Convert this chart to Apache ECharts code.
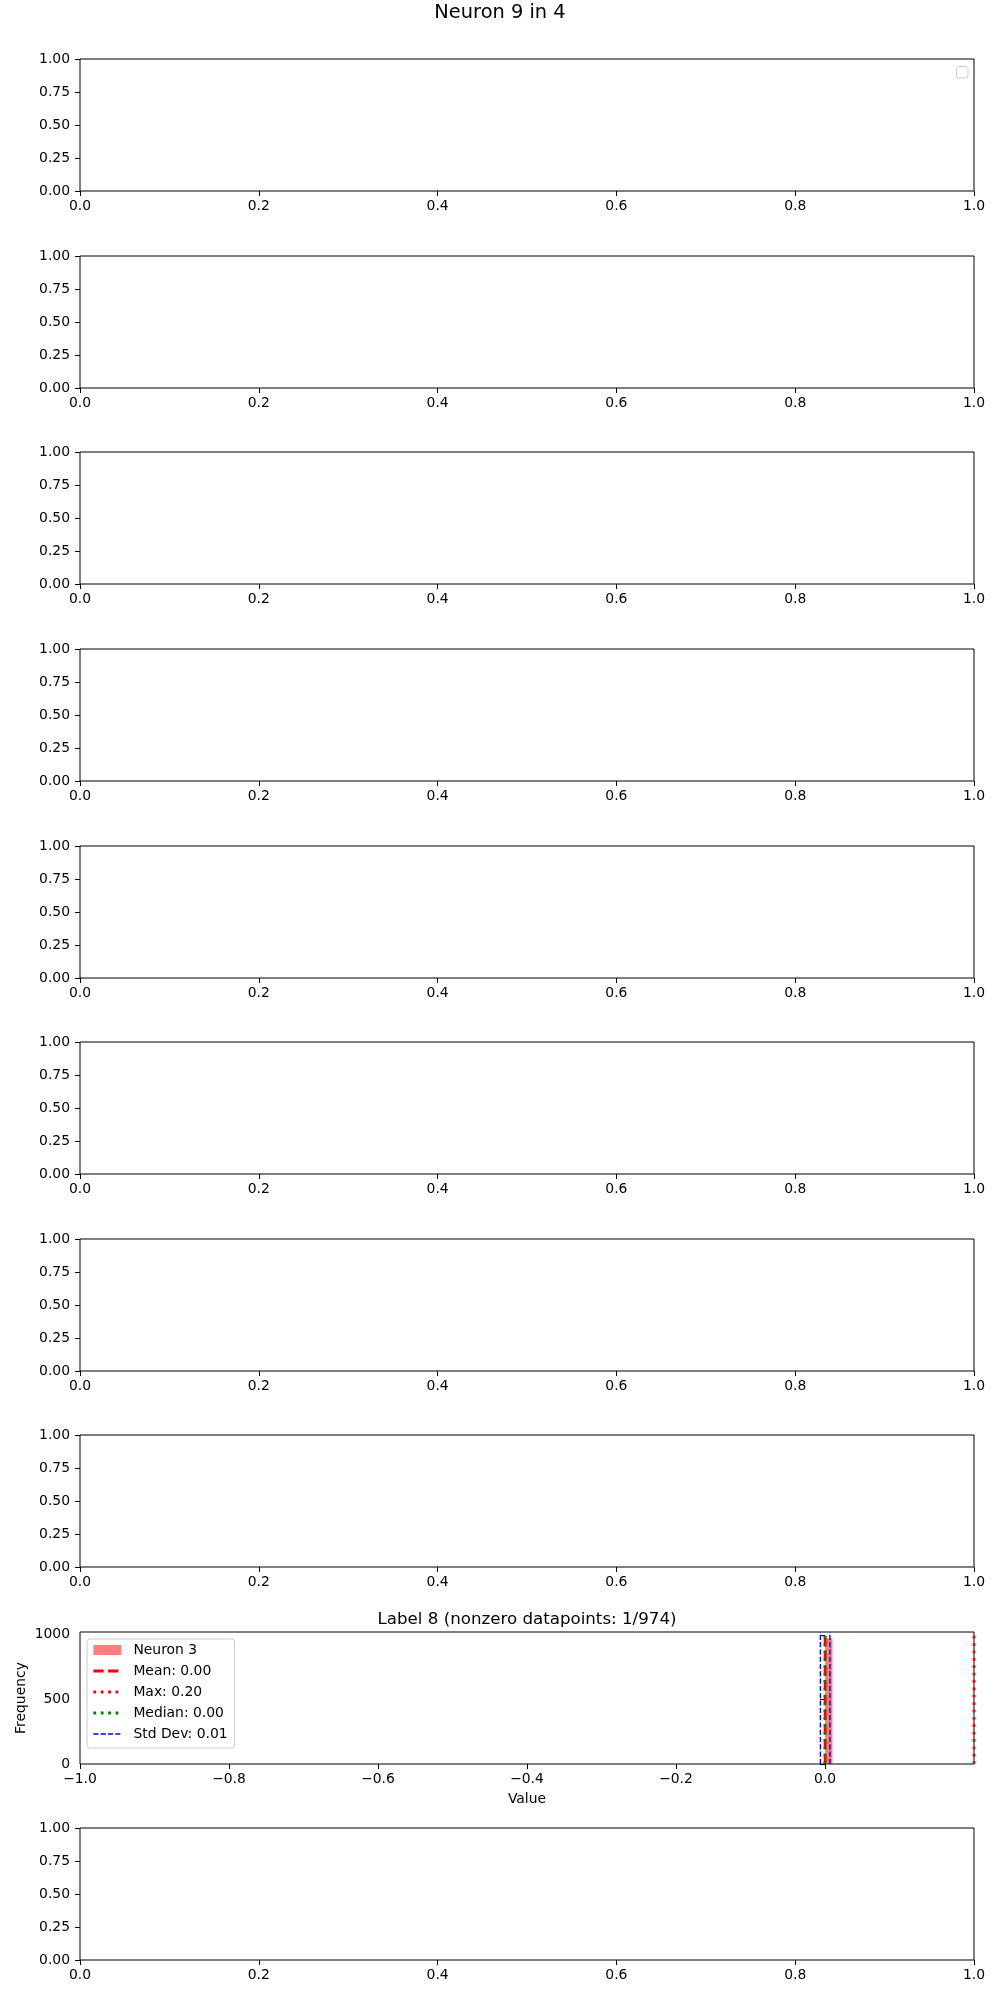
<!DOCTYPE html>
<html>
<head>
<meta charset="utf-8">
<script src="https://cdn.jsdelivr.net/npm/echarts@6/dist/echarts.min.js"></script>
<style>
html,body{margin:0;padding:0;background:#ffffff;}
#chart{width:1000px;height:2000px;}
</style>
</head>
<body>
<div id="chart"></div>
<script>
// ---------------- data ----------------
const figureTitle = 'Neuron 9 in 4';
const histPanelTitle = 'Label 8 (nonzero datapoints: 1/974)';
const histSeriesName = 'Neuron 3';
const histEdges = [0.00, 0.01, 0.02, 0.03, 0.04, 0.05, 0.06, 0.07, 0.08, 0.09, 0.10,
                   0.11, 0.12, 0.13, 0.14, 0.15, 0.16, 0.17, 0.18, 0.19, 0.20];
const histCounts = [973, 0, 0, 0, 0, 0, 0, 0, 0, 0,
                    0, 0, 0, 0, 0, 0, 0, 0, 0, 1];
const meanVal = 0.0002;
const maxVal = 0.20;
const medianVal = 0.0;
const stdVal = 0.0064;
const histXRange = [-1.0, 0.2];
const histYMax = 1021.65;
const histXTicks = [-1.0, -0.8, -0.6, -0.4, -0.2, 0.0];
const histYTicks = [0, 500, 1000];
const emptyXTicks = [0.0, 0.2, 0.4, 0.6, 0.8, 1.0];
const emptyYTicks = [0.0, 0.25, 0.5, 0.75, 1.0];
const histXLabel = 'Value';
const histYLabel = 'Frequency';
const panelCount = 10;
const histPanelIndex = 8;

// ---------------- layout ----------------
const FONT = 'DejaVu Sans';
const gridLeft = 80, gridRight = 26, gridHeight = 132;
const firstTop = 59.3, panelStep = 196.56;
const tickFont = 13.9;

function fmtX(v) { return (v < 0 ? '\u2212' : '') + Math.abs(v).toFixed(1); }
function fmtY2(v) { return v.toFixed(2); }
function fmtInt(v) { return String(Math.round(v)); }

const grids = [], xAxes = [], yAxes = [], series = [];
for (let i = 0; i < panelCount; i++) {
  const top = Math.round(firstTop + i * panelStep);
  grids.push({left: gridLeft, right: gridRight, top: top, height: gridHeight,
    show: true, borderColor: '#000', borderWidth: 1, backgroundColor: '#fff'});
  const isHist = i === histPanelIndex;
  const xt = isHist ? histXTicks : emptyXTicks;
  const yt = isHist ? histYTicks : emptyYTicks;
  xAxes.push({
    type: 'value', gridIndex: i,
    min: isHist ? histXRange[0] : 0, max: isHist ? histXRange[1] : 1,
    axisLine: {show: false},
    splitLine: {show: false},
    axisTick: {show: true, length: 5, customValues: xt, lineStyle: {color: '#000', width: 1}},
    axisLabel: {customValues: xt, formatter: fmtX, color: '#000', fontSize: tickFont, fontFamily: FONT, margin: 8},
    name: isHist ? histXLabel : '', nameLocation: 'middle', nameGap: 28, nameMoveOverlap: false,
    nameTextStyle: {color: '#000', fontSize: tickFont, fontFamily: FONT}
  });
  yAxes.push({
    type: 'value', gridIndex: i,
    min: 0, max: isHist ? histYMax : 1,
    axisLine: {show: false},
    splitLine: {show: false},
    axisTick: {show: true, length: 5, customValues: yt, lineStyle: {color: '#000', width: 1}},
    axisLabel: {customValues: yt, formatter: isHist ? fmtInt : fmtY2, color: '#000', fontSize: tickFont, fontFamily: FONT, margin: 10},
    name: isHist ? histYLabel : '', nameLocation: 'middle', nameGap: 52, nameRotate: 90, nameMoveOverlap: false,
    nameTextStyle: {color: '#000', fontSize: tickFont, fontFamily: FONT}
  });
}

const H = histPanelIndex;
const histData = histCounts.map((c, k) => [histEdges[k], histEdges[k + 1], c]);
series.push({
  type: 'custom', name: histSeriesName, xAxisIndex: H, yAxisIndex: H,
  itemStyle: {color: 'rgba(255,0,0,0.5)'},
  encode: {x: [0, 1], y: 2},
  data: histData,
  renderItem: function (params, api) {
    const c = api.value(2);
    if (!c) return null;
    const p0 = api.coord([api.value(0), c]);
    const p1 = api.coord([api.value(1), 0]);
    return {type: 'rect', shape: {x: p0[0], y: p0[1], width: p1[0] - p0[0], height: p1[1] - p0[1]},
      style: {fill: 'rgba(255,0,0,0.5)'}};
  }
});
const lineDefs = [];
function vline(name, x, color, width, dash) {
  lineDefs.push({name: name, color: color, width: width, dash: dash});
  return {type: 'line', name: name, xAxisIndex: H, yAxisIndex: H, symbol: 'none', silent: true,
    data: [[x, 0], [x, histYMax]], clip: false,
    itemStyle: {color: color},
    lineStyle: {color: color, width: width, type: dash, cap: 'butt'}};
}
const meanName = 'Mean: ' + meanVal.toFixed(2);
const maxName = 'Max: ' + maxVal.toFixed(2);
const medName = 'Median: ' + medianVal.toFixed(2);
const stdName = 'Std Dev: ' + stdVal.toFixed(2);
series.push(vline(meanName, meanVal, '#ff0000', 2.78, [10.3, 4.4]));
series.push(vline(maxName, maxVal, '#ff0000', 2.78, [2.78, 4.6]));
series.push(vline(medName, medianVal, '#008000', 2.78, [2.78, 4.6]));
series.push(vline(stdName, meanVal - stdVal, '#0000ff', 1.39, [5.1, 2.2]));
series.push(vline('_std_upper', meanVal + stdVal, '#0000ff', 1.39, [5.1, 2.2]));

const legendData = [{name: histSeriesName, icon: 'rect', itemStyle: {color: 'rgba(255,0,0,0.5)'}}];
lineDefs.slice(0, 4).forEach(d => legendData.push({
  name: d.name,
  itemStyle: {opacity: 0, color: 'rgba(0,0,0,0)', borderWidth: 0},
  lineStyle: {color: d.color, width: d.width, type: d.dash, cap: 'butt', opacity: 1}
}));

const histTop = Math.round(firstTop + H * panelStep);

const option = {
  animation: false,
  backgroundColor: '#ffffff',
  textStyle: {fontFamily: FONT},
  title: [
    {text: figureTitle, left: 500, textAlign: 'center', top: 3.5, padding: 0,
      textStyle: {fontSize: 19.4, fontWeight: 'normal', color: '#000', fontFamily: FONT}},
    {text: histPanelTitle, left: 527, textAlign: 'center', top: histTop - 21, padding: 0,
      textStyle: {fontSize: 16.67, fontWeight: 'normal', color: '#000', fontFamily: FONT}}
  ],
  legend: {
    orient: 'vertical', left: 87, top: histTop + 7,
    data: legendData,
    itemWidth: 28, itemHeight: 10, itemGap: 7,
    padding: [4, 7, 7, 5],
    backgroundColor: 'rgba(255,255,255,0.8)',
    borderColor: '#cccccc', borderWidth: 1, borderRadius: 3,
    textStyle: {color: '#000', fontSize: tickFont, fontFamily: FONT, lineHeight: 14, padding: [0, 0, 0, 7]},
    selectedMode: false
  },
  graphic: [
    {type: 'rect', left: 956, top: 66, shape: {width: 11.5, height: 11.5, r: 2},
      style: {fill: 'rgba(255,255,255,0.8)', stroke: '#cccccc', lineWidth: 1}, z: 100}
  ],
  grid: grids,
  xAxis: xAxes,
  yAxis: yAxes,
  series: series
};

const chart = echarts.init(document.getElementById('chart'), null, {renderer: 'canvas'});
chart.setOption(option);
</script>
</body>
</html>
